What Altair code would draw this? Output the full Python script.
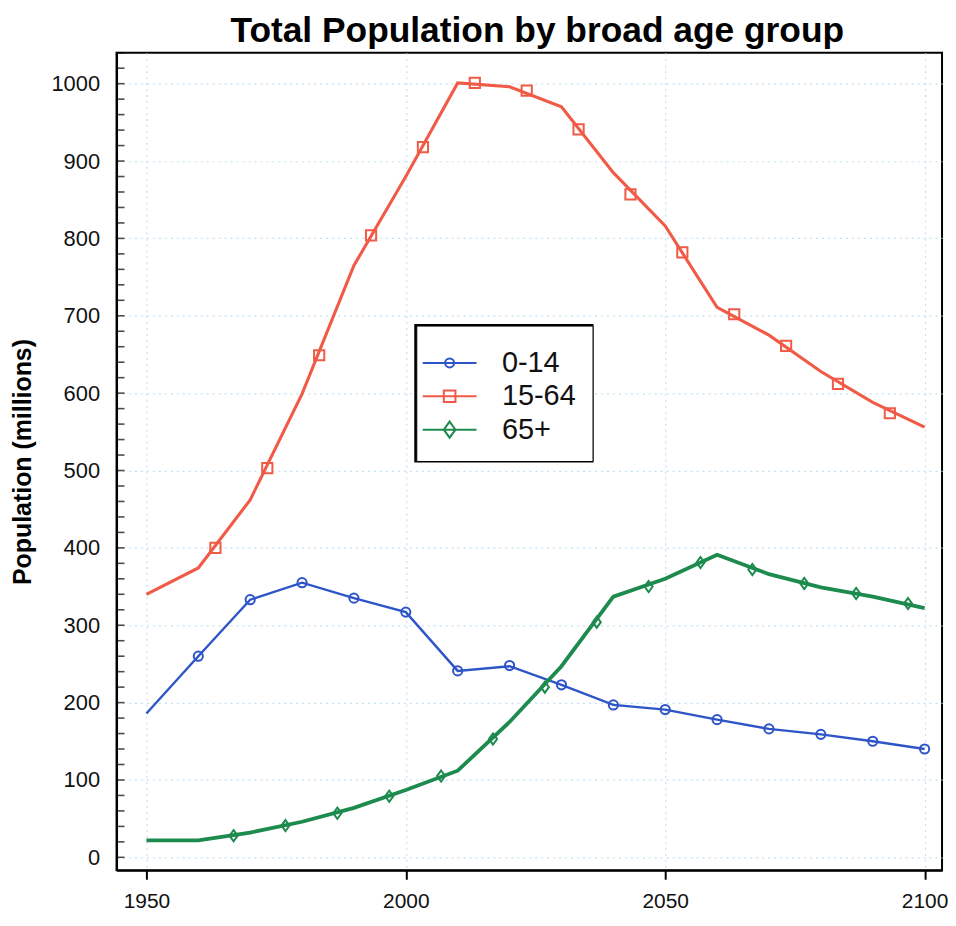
import altair as alt
import pandas as pd

# ---------------- data ----------------
GROUPS = ["0-14", "15-64", "65+"]
COLORS = ["#2e55c8", "#f05a46", "#1d8a4e"]

LINE_YEARS = [1950, 1960, 1970, 1980, 1990, 2000, 2010, 2020, 2030, 2040,
              2050, 2060, 2070, 2080, 2090, 2100]
CHILD_VALUES = [186, 260, 333, 355, 335, 317, 241, 247, 223, 197, 191, 178, 166, 159, 150, 140]
WORKING_VALUES = [340, 374, 462, 599, 765, 880, 1001, 996, 970, 885, 816, 711, 675, 628, 588, 556]
ELDER_VALUES = [22, 22, 32, 46, 64, 87, 112, 175, 247, 337, 360, 391, 366, 349, 337, 322]

CHILD_MARK_YEARS = [1960, 1970, 1980, 1990, 2000, 2010, 2020, 2030, 2040, 2050,
                    2060, 2070, 2080, 2090, 2100]
CHILD_MARK_VALUES = [260, 333, 355, 335, 317, 241, 248, 223, 197, 191, 178, 166, 159, 150, 140]
WORKING_MARK_YEARS = [1963.3, 1973.3, 1983.3, 1993.3, 2003.3, 2013.3, 2023.3, 2033.3,
                      2043.3, 2053.3, 2063.3, 2073.3, 2083.3, 2093.3]
WORKING_MARK_VALUES = [400, 503, 649, 804, 918, 1001, 991, 941, 857, 782, 702, 661, 612, 574]
ELDER_MARK_YEARS = [1966.8, 1976.8, 1986.8, 1996.8, 2006.8, 2016.8, 2026.8, 2036.8,
                    2046.8, 2056.8, 2066.8, 2076.8, 2086.8, 2096.8]
ELDER_MARK_VALUES = [28, 41, 57, 79, 105, 153, 220, 304, 350, 381, 372, 354, 341, 328]

X_TICKS = [1950, 2000, 2050, 2100]
Y_TICKS = [0, 100, 200, 300, 400, 500, 600, 700, 800, 900, 1000]
Y_MINOR_TICKS = list(range(0, 1041, 20))

# ---------------- styles ----------------
LINE_WIDTHS = [2.4, 3.8, 2.4]
MARKER_SHAPES = ["circle", "square", "M0,-1L0.73,0L0,1L-0.73,0Z"]
MARKER_SIZES = [85, 125, 230]
LEGEND_SHAPES = [
    "M-3,0H3M0.5,0A0.5,0.5 0 1,1 -0.5,0A0.5,0.5 0 1,1 0.5,0",
    "M-3,0H3M-0.65,-0.65H0.65V0.65H-0.65Z",
    "M-3,0H3M0,-0.9L0.65,0L0,0.9L-0.65,0Z",
]

rows = []
for g, ys in zip(GROUPS, [CHILD_VALUES, WORKING_VALUES, ELDER_VALUES]):
    for yr, v in zip(LINE_YEARS, ys):
        rows.append({"year": yr, "value": v, "group": g})
lines_df = pd.DataFrame(rows)

mrows = []
for g, yrs, ys in zip(GROUPS,
                      [CHILD_MARK_YEARS, WORKING_MARK_YEARS, ELDER_MARK_YEARS],
                      [CHILD_MARK_VALUES, WORKING_MARK_VALUES, ELDER_MARK_VALUES]):
    for yr, v in zip(yrs, ys):
        mrows.append({"year": yr, "value": v, "group": g})
marks_df = pd.DataFrame(mrows)

minor_df = pd.DataFrame({"tick": Y_MINOR_TICKS})
frame_df = pd.DataFrame({"box": ["legend"]})

W, H = 829, 821
x_scale = alt.Scale(domain=[1944.24, 1944.24 + W / 5.21], nice=False, zero=False)
y_scale = alt.Scale(domain=[-16.7, 1040], nice=False, zero=False)
color_scale = alt.Scale(domain=GROUPS, range=COLORS)

x_enc = alt.X(
    "year:Q", scale=x_scale,
    axis=alt.Axis(values=X_TICKS, format="d", title=None, grid=True,
                  gridColor="#c4e0f2", gridDash=[2, 4], gridWidth=1.2,
                  domainColor="black", domainWidth=2,
                  tickColor="black", tickWidth=2, tickSize=9,
                  labelFontSize=21, labelColor="#111111", labelPadding=11,
                  labelFont="Liberation Sans"),
)

main_y_axis = alt.Axis(values=Y_TICKS, format="d", grid=True, gridColor="#c4e0f2",
                       gridDash=[2, 4], gridWidth=1.2, ticks=False,
                       domainColor="black", domainWidth=2,
                       labelFontSize=22, labelColor="#111111", labelPadding=17,
                       labelFont="Liberation Sans",
                       title="Population (millions)", titleFontSize=25,
                       titleFontWeight="bold", titleColor="black", titlePadding=15,
                       titleFont="Liberation Sans")

lines = alt.Chart(lines_df).mark_line().encode(
    x=x_enc,
    y=alt.Y("value:Q", scale=y_scale, axis=main_y_axis),
    color=alt.Color("group:N", scale=color_scale, legend=None),
    strokeWidth=alt.StrokeWidth("group:N", scale=alt.Scale(domain=GROUPS, range=LINE_WIDTHS),
                                legend=None),
)

points = alt.Chart(marks_df).mark_point(filled=False, strokeWidth=2, opacity=1).encode(
    x=x_enc,
    y=alt.Y("value:Q", scale=y_scale, axis=None),
    color=alt.Color("group:N", scale=color_scale, legend=None),
    shape=alt.Shape("group:N", scale=alt.Scale(domain=GROUPS, range=MARKER_SHAPES), legend=None),
    size=alt.Size("group:N", scale=alt.Scale(domain=GROUPS, range=MARKER_SIZES), legend=None),
)

# inward minor ticks on the left axis (positioned by the shared y scale)
minor_ticks = alt.Chart(minor_df).mark_tick(
    color="black", thickness=1.6, size=8, orient="horizontal"
).encode(
    y=alt.Y("tick:Q", scale=y_scale, axis=None),
    x=alt.value(4),
)

# thicker frame drawn under the legend box
legend_frame = alt.Chart(frame_df).mark_rect(
    fill="white", fillOpacity=0, stroke="black", strokeWidth=3
).encode(
    x=alt.value(300.5), x2=alt.value(477.5), y=alt.value(274), y2=alt.value(410)
)

leg = alt.Legend(orient="none", legendX=301, legendY=274, title=" ", titleFontSize=7,
                 titlePadding=0,
                 strokeColor="black", fillColor="white", padding=16,
                 labelFontSize=29, labelColor="#111111", labelFont="Liberation Sans",
                 symbolSize=324, symbolStrokeWidth=2, symbolOffset=3, labelOffset=38,
                 rowPadding=3.5)

legend_layer = alt.Chart(marks_df).transform_filter("false").mark_point(
    filled=False, opacity=1, strokeWidth=2).encode(
    x=x_enc,
    y=alt.Y("value:Q", scale=y_scale, axis=None),
    color=alt.Color("group:N", scale=color_scale, legend=leg),
    shape=alt.Shape("group:N", scale=alt.Scale(domain=GROUPS, range=LEGEND_SHAPES),
                    legend=leg),
)

chart = alt.layer(lines, minor_ticks, points, legend_layer, legend_frame).resolve_scale(
    shape="independent", size="independent"
).resolve_axis(y="independent").resolve_legend(
    color="independent", shape="independent"
).properties(
    width=W, height=H,
    title=alt.TitleParams("Total Population by broad age group", fontSize=35.5,
                          fontWeight="bold", font="Liberation Sans", color="black",
                          anchor="middle", frame="group", dx=8, offset=2),
    padding={"left": 3, "top": 4, "right": 0, "bottom": 0},
    background="white",
).configure(font="Liberation Sans").configure_view(stroke="black", strokeWidth=2)

chart.save("out.html", embed_options={"renderer": "svg", "actions": False})
